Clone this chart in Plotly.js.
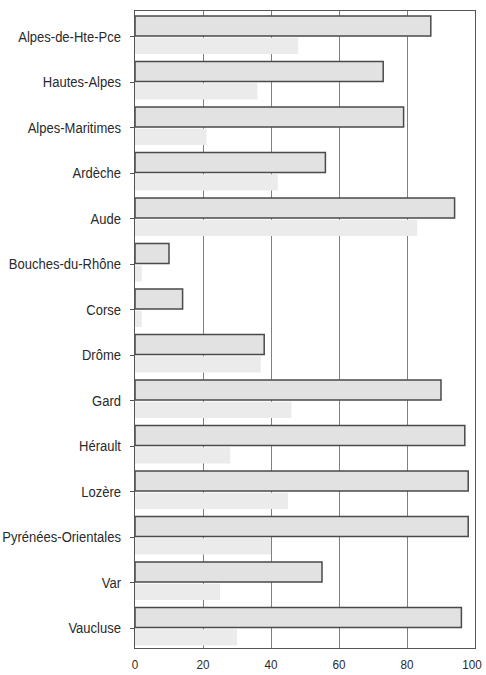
<!DOCTYPE html>
<html>
<head>
<meta charset="utf-8">
<script src="https://cdn.plot.ly/plotly-3.0.1.min.js"></script>
<style>
html,body{margin:0;padding:0;background:#fff;}
#chart{width:486px;height:675px;}
</style>
</head>
<body>
<div id="chart"></div>
<script>
const categories = ["Alpes-de-Hte-Pce","Hautes-Alpes","Alpes-Maritimes","Ardèche","Aude","Bouches-du-Rhône","Corse","Drôme","Gard","Hérault","Lozère","Pyrénées-Orientales","Var","Vaucluse"];
const seriesA = [87, 73, 79, 56, 94, 10, 14, 38, 90, 97, 98, 98, 55, 96];
const seriesB = [48, 36, 21, 42, 83, 2, 2, 37, 46, 28, 45, 40, 25, 30];
const xTicks = [0, 20, 40, 60, 80, 100];

const idx = categories.map((c, i) => i);
const font = "'Liberation Sans', Arial, sans-serif";

const traceA = {
  type: 'bar', orientation: 'h',
  x: seriesA, y: idx,
  offset: -0.39, width: 0.44,
  marker: {color: '#e2e2e2', line: {color: '#4a4a4a', width: 1.5}},
  hoverinfo: 'x'
};
const traceB = {
  type: 'bar', orientation: 'h',
  x: seriesB, y: idx,
  offset: 0.09, width: 0.355,
  marker: {color: '#ebebeb', line: {width: 0}},
  hoverinfo: 'x'
};

const layout = {
  width: 486, height: 675,
  margin: {l: 135, r: 11, t: 11, b: 27},
  paper_bgcolor: '#fff', plot_bgcolor: '#fff',
  showlegend: false,
  barmode: 'overlay',
  font: {family: font, size: 14, color: '#2a2a2a'},
  xaxis: {
    range: [0, 100], tickvals: xTicks, ticktext: xTicks.map(String),
    showgrid: true, gridcolor: '#808080', gridwidth: 1,
    zeroline: false, showline: true, linecolor: '#555', linewidth: 1.2, mirror: true,
    ticks: '', ticklabeloverflow: 'allow', ticklabelstandoff: 4,
    tickfont: {family: font, size: 13, color: '#2a2a2a'},
    fixedrange: true
  },
  yaxis: {
    range: [13.5, -0.5],
    tickvals: idx.map(i => i + 0.07), ticktext: categories,
    showgrid: false, zeroline: false,
    showline: true, linecolor: '#555', linewidth: 1.2, mirror: true,
    ticks: 'outside', ticklen: 4, tickcolor: '#555', ticklabelstandoff: 6,
    tickfont: {family: font, size: 14, color: '#2a2a2a'},
    fixedrange: true
  }
};

Plotly.newPlot('chart', [traceA, traceB], layout, {displayModeBar: false, staticPlot: true}).then(function (gd) {
  // narrow the tick labels horizontally to imitate the condensed typeface
  const squeeze = function (sel, k) {
    gd.querySelectorAll(sel).forEach(function (t) {
      const w = t.getComputedTextLength();
      t.setAttribute('textLength', (w * k).toFixed(2));
      t.setAttribute('lengthAdjust', 'spacingAndGlyphs');
    });
  };
  squeeze('.ytick text', 0.93);
  squeeze('.xtick text', 0.9);
  // keep the last x label inside the page, as in the reference
  const xt = gd.querySelectorAll('.xtick text');
  if (xt.length) xt[xt.length - 1].setAttribute('dx', '-3');
});
</script>
</body>
</html>
